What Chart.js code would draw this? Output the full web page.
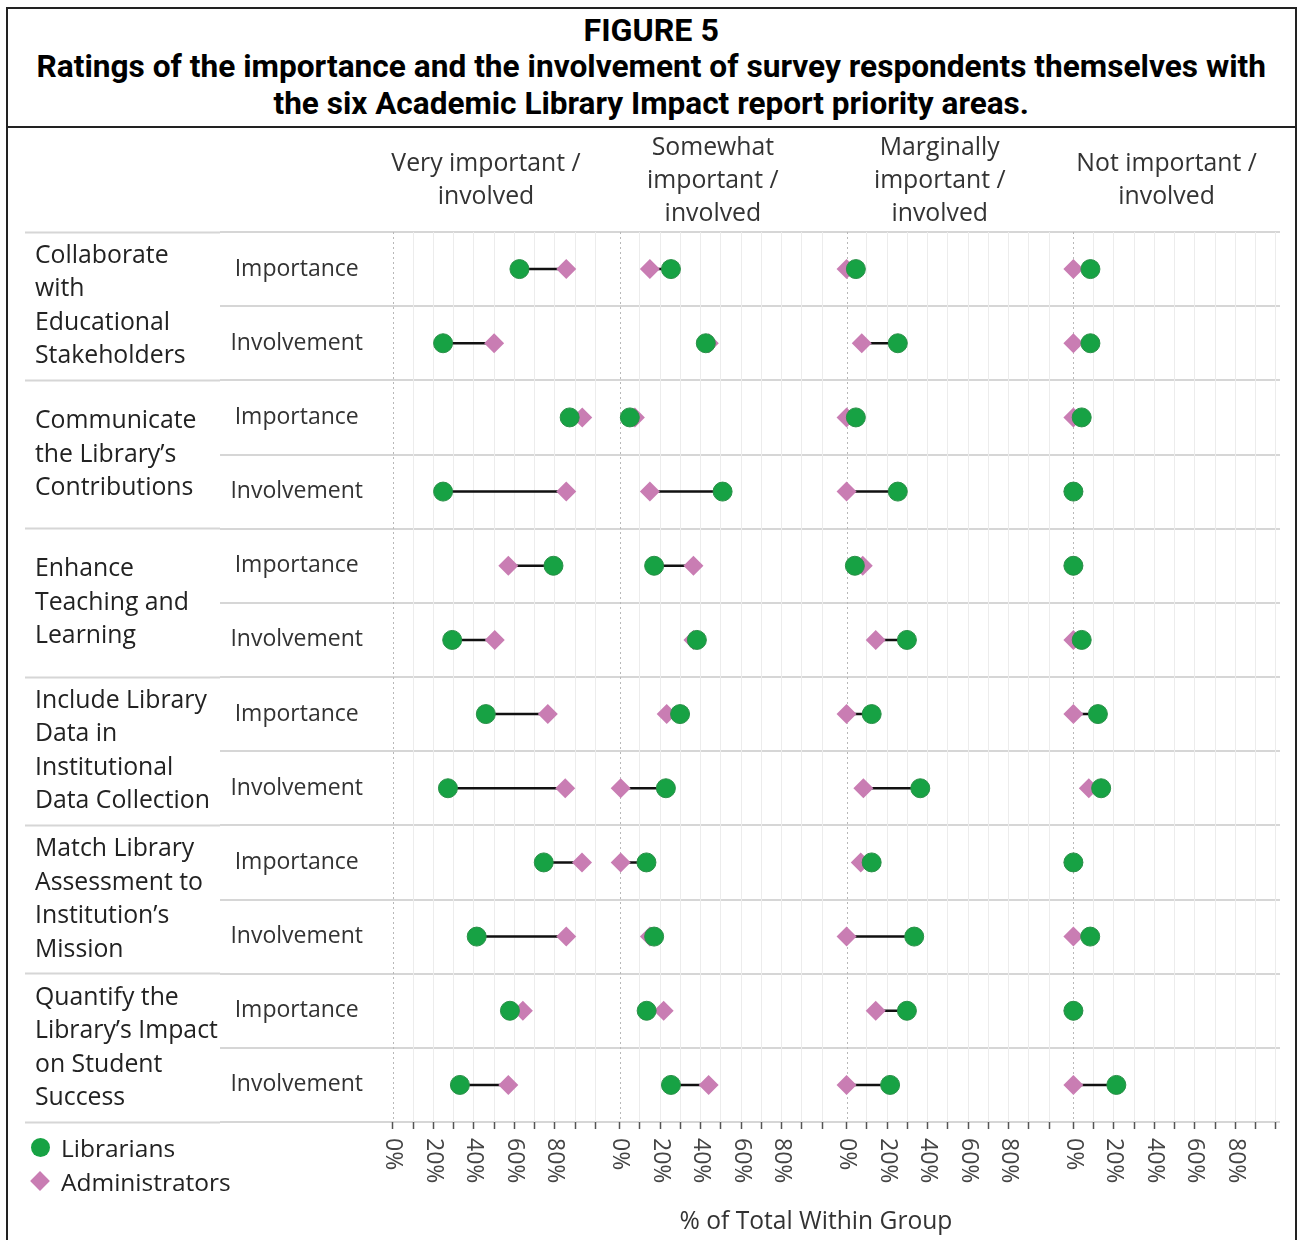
<!DOCTYPE html>
<html>
<head>
<meta charset="utf-8">
<script src="https://cdn.jsdelivr.net/npm/chart.js@4.4.1/dist/chart.umd.min.js"></script>
<style>
  html, body { margin: 0; padding: 0; background: #fff; }
  body { width: 1299px; height: 1240px; position: relative; overflow: hidden; font-family: "Open Sans", "Noto Sans", sans-serif; color: #222; }
  #frame { position: absolute; left: 6px; top: 7px; width: 1291px; height: 1300px; border: 2px solid #222; box-sizing: border-box; }
  #head { position: absolute; left: 6px; top: 7px; width: 1291px; height: 121px; border-bottom: 2px solid #222; box-sizing: border-box;
          text-align: center; font-family: Roboto, "Liberation Sans", sans-serif; font-weight: bold; color: #000; }
  #head div { position: absolute; left: 0; right: 0; font-size: 31px; line-height: 36px; white-space: nowrap; }
  #head span { display: inline-block; transform-origin: 50% 50%; }
  canvas { position: absolute; left: 0; top: 128px; }
  .lg { position: absolute; font-size: 24.5px; line-height: 30px; color: #222; }
  .dot { position: absolute; width: 19px; height: 19px; border-radius: 50%; background: #17a244; }
  .dia { position: absolute; width: 14px; height: 14px; background: #c97db3; transform: rotate(45deg); }
  #xtitle { position: absolute; left: 616px; width: 400px; top: 1205px; text-align: center; font-size: 24.6px; line-height: 30px; color: #333; }
</style>
</head>
<body>
<div id="frame"></div>
<div id="head">
  <div style="top:6px"><span data-w="135">FIGURE 5</span></div>
  <div style="top:42px"><span data-w="1230">Ratings of the importance and the involvement of survey respondents themselves with</span></div>
  <div style="top:79px"><span data-w="755">the six Academic Library Impact report priority areas.</span></div>
</div>
<canvas id="chart" width="1299" height="1112"></canvas>
<div class="dot" style="left:31px; top:1138px"></div>
<div class="lg" style="left:61px; top:1133px">Librarians</div>
<div class="dia" style="left:33px; top:1174px"></div>
<div class="lg" style="left:61px; top:1167px">Administrators</div>
<div id="xtitle">% of Total Within Group</div>
<script>
// squeeze the heading lines to the condensed width of the original
document.querySelectorAll('#head span').forEach(s => {
  s.style.transform = 'scaleX(' + (Number(s.dataset.w) / s.offsetWidth) + ')';
});

// rows: Importance / Involvement for each priority area
const rowLabels = ['Importance', 'Involvement', 'Importance', 'Involvement', 'Importance', 'Involvement',
                   'Importance', 'Involvement', 'Importance', 'Involvement', 'Importance', 'Involvement'];
const groupLabels = [
  ['Collaborate', 'with', 'Educational', 'Stakeholders'],
  ['Communicate', 'the Library\u2019s', 'Contributions'],
  ['Enhance', 'Teaching and', 'Learning'],
  ['Include Library', 'Data in', 'Institutional', 'Data Collection'],
  ['Match Library', 'Assessment to', 'Institution\u2019s', 'Mission'],
  ['Quantify the', 'Library\u2019s Impact', 'on Student', 'Success']
];
const panelTitles = [
  ['Very important /', 'involved'],
  ['Somewhat', 'important /', 'involved'],
  ['Marginally', 'important /', 'involved'],
  ['Not important /', 'involved']
];
const tickValues = [0, 10, 20, 30, 40, 50, 60, 70, 80, 90, 100];
const tickLabelValues = [0, 20, 40, 60, 80];
const tickLabels = ['0%', '20%', '40%', '60%', '80%'];

// % of total within group
const libVery     = [62.5, 24.8, 87.3, 24.8, 79.3, 29.3, 45.9, 27.2, 74.5, 41.4, 57.8, 33.1];
const libSomewhat = [25.3, 42.5, 5.0, 50.8, 17.0, 38.1, 29.8, 22.8, 13.2, 17.0, 13.3, 25.3];
const libMarginal = [4.6, 25.3, 4.6, 25.3, 4.1, 29.8, 12.4, 36.4, 12.4, 33.4, 29.8, 21.5];
const libNot      = [8.4, 8.4, 4.1, 0, 0, 4.1, 12.1, 13.7, 0, 8.3, 0, 21.2];

const admVery     = [85.6, 50.0, 93.5, 85.6, 57.0, 50.3, 76.5, 85.1, 93.4, 85.6, 64.2, 57.0];
const admSomewhat = [14.9, 44.0, 7.5, 14.9, 36.4, 36.4, 23.2, 0.5, 0.5, 14.9, 21.7, 43.9];
const admMarginal = [0, 7.5, 0, 0, 8.0, 14.4, 0, 8.3, 7.0, 0, 14.4, 0];
const admNot      = [0, 0, 0, 0, 0, 0, 0, 7.6, 0, 0, 0, 0];

const libPanels = [libVery, libSomewhat, libMarginal, libNot];
const admPanels = [admVery, admSomewhat, admMarginal, admNot];
const panelIds = ['x0', 'x1', 'x2', 'x3'];

const GREEN = '#17a244';
const PINK = '#c97db3';
const LINE = '#d6d6d6';
const FONT = { family: '"Open Sans", "Noto Sans", sans-serif', size: 23 };
const BIG = { family: '"Open Sans", "Noto Sans", sans-serif', size: 24.8 };

const datasets = [];
panelIds.forEach((id, p) => {
  datasets.push({
    label: 'Librarians', xAxisID: id, yAxisID: 'rows', order: 1,
    data: libPanels[p].map((v, i) => ({ x: v, y: i })),
    pointStyle: 'circle', pointRadius: 9.5,
    backgroundColor: GREEN, borderColor: '#2a9048', borderWidth: 1
  });
  datasets.push({
    label: 'Administrators', xAxisID: id, yAxisID: 'rows', order: 2,
    data: admPanels[p].map((v, i) => ({ x: v, y: i })),
    pointStyle: 'rectRot', pointRadius: 10,
    backgroundColor: PINK, borderColor: PINK, borderWidth: 0
  });
  const seg = [];
  libPanels[p].forEach((v, i) => {
    seg.push({ x: v, y: i }, { x: admPanels[p][i], y: i }, { x: v, y: null });
  });
  datasets.push({
    label: 'gap', xAxisID: id, yAxisID: 'rows', order: 3,
    data: seg, showLine: true, spanGaps: false, pointRadius: 0,
    borderColor: '#111', borderWidth: 2.5
  });
});

const scales = {
  rows: {
    type: 'linear', axis: 'y', position: 'left', weight: 0,
    min: -0.5, max: rowLabels.length - 0.5, reverse: true,
    afterBuildTicks: s => { s.ticks = rowLabels.map((_, i) => ({ value: i })); },
    afterFit: s => { s.width = 152.6; },
    ticks: { autoSkip: false, font: FONT, color: '#333', crossAlign: 'center', padding: -143,
             callback: v => rowLabels[v] },
    grid: { offset: true, color: LINE, lineWidth: 2, tickLength: 152.6, tickColor: LINE, tickWidth: 2 },
    border: { display: false }
  },
  groups: {
    type: 'linear', axis: 'y', position: 'left', weight: 1,
    min: 0, max: groupLabels.length * 2, reverse: true,
    afterBuildTicks: s => { s.ticks = rowLabels.concat(['']).map((_, i) => ({ value: i })); },
    afterFit: s => { s.width = 185; },
    ticks: { autoSkip: false, font: { ...BIG, lineHeight: 1.35 }, color: '#222', crossAlign: 'far',
             callback: v => (v % 2 === 1 ? groupLabels[(v - 1) / 2] : '') },
    grid: { drawOnChartArea: false, tickLength: 195, tickWidth: 2,
            tickColor: c => (c.tick && c.tick.value % 2 === 0 ? LINE : 'rgba(0,0,0,0)') },
    border: { display: false }
  }
};

panelIds.forEach((id, p) => {
  scales[id] = {
    type: 'linear', axis: 'x', position: 'bottom', stack: 'panels',
    min: -10, max: 102,
    afterBuildTicks: s => { s.ticks = tickValues.map(v => ({ value: v })); },
    afterFit: s => { s.height = 118; },
    ticks: { display: false },
    grid: { color: c => (c.tick && c.tick.value === 0 ? 'rgba(0,0,0,0)' : '#ececec'), lineWidth: 1,
            tickLength: 7, tickColor: '#555', tickWidth: 1.5 },
    border: { display: false }
  };
});
// top boxes are laid out right to left, so add the heading axes last panel first
[3, 2, 1, 0].forEach(p => {
  scales['h' + p] = {
    type: 'linear', axis: 'x', position: 'top', stack: 'heads',
    min: -10, max: 102,
    afterFit: s => { s.height = 104; },
    ticks: { display: false },
    grid: { display: false },
    border: { display: false },
    title: { display: true, text: panelTitles[p], color: '#333', font: { ...BIG, lineHeight: 1.33 },
             padding: { top: panelTitles[p].length === 3 ? 3 : 19, bottom: 0 } }
  };
});

// dotted 0% line per panel and rotated tick labels
const panelDecor = {
  id: 'panelDecor',
  beforeDatasetsDraw(chart) {
    const { ctx, chartArea } = chart;
    ctx.save();
    ctx.strokeStyle = '#b8b8b8';
    ctx.lineWidth = 1;
    ctx.setLineDash([2, 3]);
    panelIds.forEach(id => {
      const x = Math.round(chart.scales[id].getPixelForValue(0)) + 0.5;
      ctx.beginPath();
      ctx.moveTo(x, chartArea.top);
      ctx.lineTo(x, chartArea.bottom);
      ctx.stroke();
    });
    ctx.restore();
  },
  afterDraw(chart) {
    const { ctx } = chart;
    ctx.save();
    ctx.font = '23px "Open Sans", "Noto Sans", sans-serif';
    ctx.fillStyle = '#444';
    ctx.textAlign = 'left';
    ctx.textBaseline = 'middle';
    panelIds.forEach(id => {
      const scale = chart.scales[id];
      scale.ticks.forEach(t => {
        const i = tickLabelValues.indexOf(t.value);
        if (i < 0) return;
        ctx.save();
        ctx.translate(scale.getPixelForValue(t.value), scale.top + 16);
        ctx.rotate(Math.PI / 2);
        ctx.fillText(tickLabels[i], 0, 0);
        ctx.restore();
      });
    });
    ctx.restore();
  }
};

new Chart(document.getElementById('chart'), {
  type: 'scatter',
  data: { datasets },
  options: {
    responsive: false,
    animation: false,
    events: [],
    layout: { padding: { left: 35, right: 19, top: 0, bottom: 0 } },
    plugins: { legend: { display: false }, tooltip: { enabled: false } },
    scales
  },
  plugins: [panelDecor]
});
</script>
</body>
</html>
